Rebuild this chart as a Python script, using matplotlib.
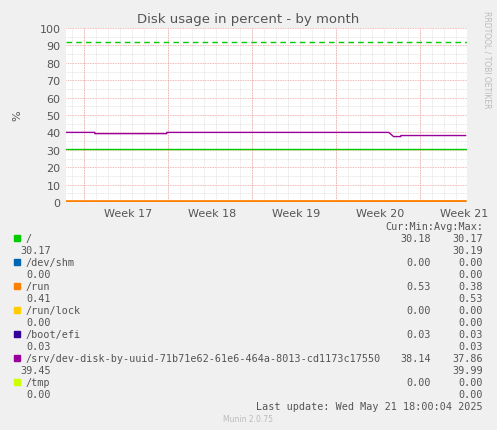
import matplotlib
matplotlib.use("Agg")
import matplotlib.pyplot as plt
import numpy as np

W, H = 497, 431
labels = ["/", "/dev/shm", "/run", "/run/lock", "/boot/efi",
          "/srv/dev-disk-by-uuid-71b71e62-61e6-464a-8013-cd1173c17550", "/tmp"]
colors = ["#00CC00", "#0066B3", "#FF8000", "#FFCC00", "#330099", "#990099", "#CCFF00"]
cur = ["30.18", "0.00", "0.53", "0.00", "0.03", "38.14", "0.00"]
mins = ["30.17", "0.00", "0.38", "0.00", "0.03", "37.86", "0.00"]
avgs = ["30.17", "0.00", "0.41", "0.00", "0.03", "39.45", "0.00"]
maxs = ["30.19", "0.00", "0.53", "0.00", "0.03", "39.99", "0.00"]

# time in days from graph start
srv_t = [0, 2.4, 2.4, 8.4, 8.4, 26.9, 27.3, 27.9, 27.9, 33.3]
srv_v = [40.0, 40.0, 39.3, 39.3, 40.0, 40.0, 37.6, 37.6, 38.2, 38.2]
root_t = [0, 33.3]; root_v = [30.2, 30.2]
run_t = [0, 33.3]; run_v = [0.45, 0.5]
zero_t = [0, 33.3]; zero_v = [0, 0]
warn_level = 92
week_pos = [5.17, 12.17, 19.17, 26.17, 33.17]
week_lab = ["Week 17", "Week 18", "Week 19", "Week 20", "Week 21"]
xmax = 401 / 12.0

fig = plt.figure(figsize=(W/100, H/100), dpi=100, facecolor="#F0F0F0")
ax = fig.add_axes([66/W, 1-203/H, 401/W, 174/H], facecolor="white")
ax.set_xlim(0, xmax); ax.set_ylim(0, 100)
for d in np.arange(0.5, xmax, 1):
    ax.axvline(d, color="#DDDDDD", lw=0.6, ls=(0, (1, 1)), zorder=0)
for d in np.arange(1.5, xmax, 7):
    ax.axvline(d, color="#F0A0A0", lw=0.6, ls=(0, (1, 1)), zorder=0)
for y in range(5, 100, 10):
    ax.axhline(y, color="#DDDDDD", lw=0.6, ls=(0, (1, 1)), zorder=0)
for y in range(10, 101, 10):
    ax.axhline(y, color="#F0A0A0", lw=0.6, ls=(0, (1, 1)), zorder=0)
ax.axhline(warn_level, color="#00CC00", lw=1, ls=(0, (4, 3)))
for i, c in enumerate(colors):
    if i == 0: ax.plot(root_t, root_v, color=c, lw=1)
    elif i == 2: continue
    elif i == 5: ax.plot(srv_t, srv_v, color=c, lw=1)
    else: ax.plot(zero_t, zero_v, color=c, lw=1)
ax.plot(run_t, run_v, color=colors[2], lw=1.5)
for s in ax.spines.values(): s.set_visible(False)
ax.set_yticks(range(0, 101, 10))
ax.set_xticks(week_pos); ax.set_xticklabels(week_lab)
ax.tick_params(length=0, labelsize=8, colors="#555555", pad=4)
ax.set_ylabel("%", fontsize=8, color="#555555", labelpad=12)
fig.text(248/W, 1-19/H, "Disk usage in percent - by month", ha="center", va="center",
         fontsize=9.5, color="#555555")
fig.text(487/W, 1-60/H, "RRDTOOL / TOBI OETIKER", rotation=270, ha="center", va="center",
         fontsize=5.5, color="#BBBBBB")

mono = dict(family="DejaVu Sans Mono", fontsize=7.3, color="#555555", va="center")
fig.text(483/W, 1-227/H, "Cur:Min:Avg:Max:", ha="right", **mono)
y0 = 239
for i, lab in enumerate(labels):
    y = y0 + i*24
    fig.patches.append(matplotlib.patches.Rectangle((14/W, 1-(y+3)/H), 6/W, 6/H,
                       transform=fig.transFigure, color=colors[i]))
    fig.text(26/W, 1-y/H, lab, ha="left", **mono)
    fig.text(431/W, 1-y/H, cur[i], ha="right", **mono)
    fig.text(483/W, 1-y/H, mins[i], ha="right", **mono)
    fig.text((20 if i in (0, 5) else 26)/W, 1-(y+12)/H, avgs[i], ha="left", **mono)
    fig.text(483/W, 1-(y+12)/H, maxs[i], ha="right", **mono)
fig.text(483/W, 1-407/H, "Last update: Wed May 21 18:00:04 2025", ha="right", **mono)
fig.text(248/W, 1-420/H, "Munin 2.0.75", ha="center", va="center", fontsize=5.5, color="#BBBBBB")
fig.savefig("out.png", dpi=100, facecolor=fig.get_facecolor())
